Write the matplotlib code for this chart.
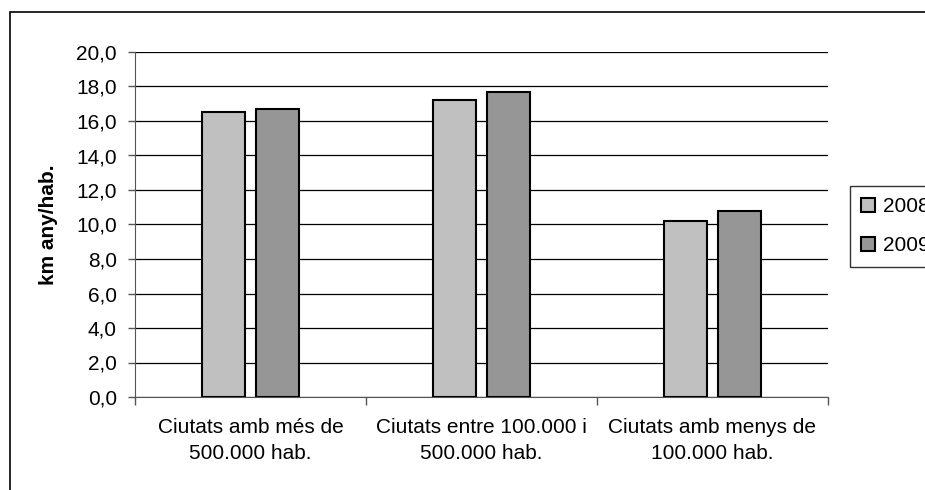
import numpy as np
import matplotlib.pyplot as plt
import matplotlib.patches as mpatches
from matplotlib.ticker import FuncFormatter

plt.rcParams['font.family'] = ['Liberation Sans', 'DejaVu Sans']

categories = ["Ciutats amb més de\n500.000 hab.",
              "Ciutats entre 100.000 i\n500.000 hab.",
              "Ciutats amb menys de\n100.000 hab."]
series = ["2008", "2009"]
values_2008 = [16.5, 17.2, 10.2]
values_2009 = [16.7, 17.7, 10.8]
colors = ["#C0C0C0", "#969696"]

fig = plt.figure(figsize=(9.25, 4.9), dpi=100)
ax = fig.add_axes([135/925, 93/490, 693/925, 345/490])

x = np.arange(len(categories))
w = 0.19
off = 0.117
for vals, c, lab, d in zip([values_2008, values_2009], colors, series, [-off, off]):
    ax.bar(x + d, vals, w, color=c, edgecolor="black", linewidth=1.5, label=lab, zorder=3)

ax.set_xlim(-0.5, len(categories) - 0.5)
ax.set_ylim(0, 20)
ax.set_yticks(np.arange(0, 20.1, 2))
ax.yaxis.set_major_formatter(FuncFormatter(lambda v, p: f"{v:.1f}".replace(".", ",")))
ax.yaxis.grid(True, color="black", linewidth=0.9, zorder=0)
ax.set_axisbelow(True)

ax.set_xticks(x)
ax.set_xticklabels(categories, fontsize=15, linespacing=1.5)
ax.tick_params(axis="x", which="major", length=0, pad=15)
ax.set_xticks(np.arange(-0.5, len(categories), 1), minor=True)
ax.tick_params(axis="x", which="minor", length=6, width=1, color="#555555")
ax.tick_params(axis="y", labelsize=15, length=5, width=1, color="#555555", pad=8)

for s in ["top", "right"]:
    ax.spines[s].set_visible(False)
ax.spines["left"].set_color("#555555")
ax.spines["bottom"].set_color("#555555")

ax.set_ylabel("km any/hab.", fontsize=15, fontweight="bold", labelpad=13)

fig.legend(loc="upper left", bbox_to_anchor=(850/925, 1 - 186/490), fontsize=15,
           frameon=True, fancybox=False, edgecolor="black", handlelength=0.65,
           handleheight=0.65, handletextpad=0.4, borderpad=0.55, borderaxespad=0,
           labelspacing=0.95)

frame = mpatches.Rectangle((10/925, -0.1), 1.2, 1 - 12/490 + 0.1, transform=fig.transFigure,
                           fill=False, edgecolor="black", linewidth=1.2)
fig.patches.append(frame)

fig.savefig("out.png", dpi=100)
